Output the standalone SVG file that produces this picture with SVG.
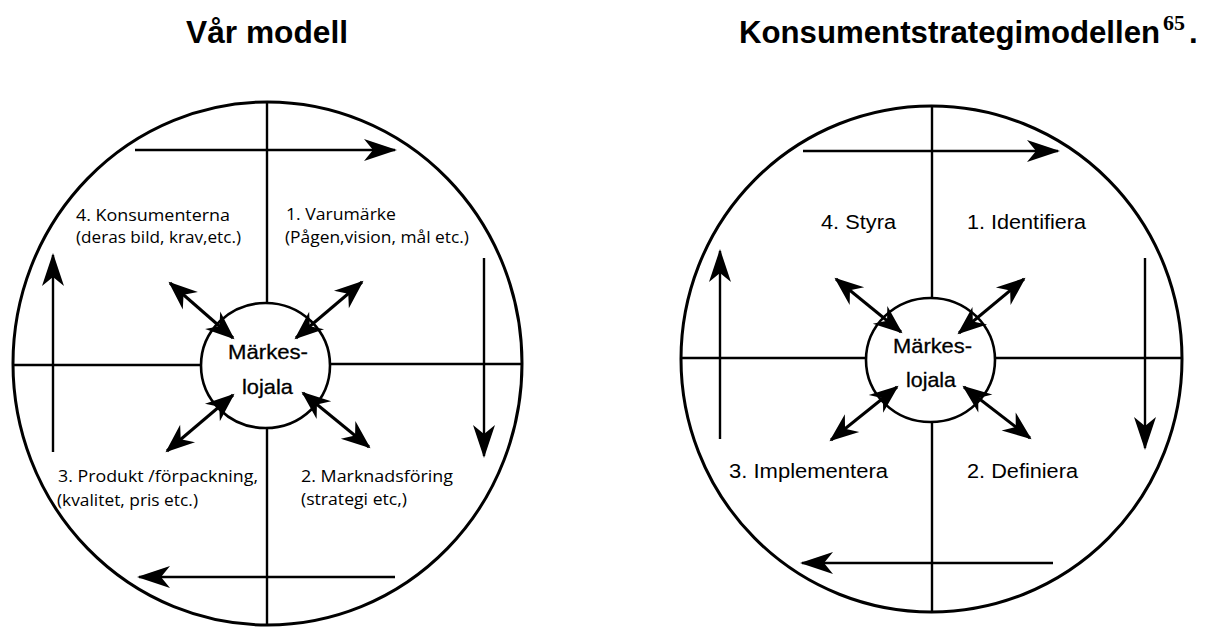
<svg xmlns="http://www.w3.org/2000/svg" width="1206" height="627" viewBox="0 0 1206 627">
<style>
.bg{fill:#fff}
.ring{fill:none;stroke:#000;stroke-width:3}
.hub{fill:#fff;stroke:#000;stroke-width:2.6}
.ln{stroke:#000;stroke-width:2.4;fill:none}
.ar{stroke:#000;stroke-width:2.4;fill:none;marker-end:url(#ah)}
.da{stroke:#000;stroke-width:3;fill:none;marker-start:url(#dh);marker-end:url(#dh)}
.title{font-family:"Liberation Sans",Arial,sans-serif;font-weight:bold;font-size:32px;fill:#000}
.sup{font-family:"Liberation Serif","Times New Roman",serif;font-weight:bold;font-size:22px}
.ql{font-family:"Open Sans","Noto Sans",sans-serif;font-size:17px;fill:#000}
.qr{font-family:"Liberation Sans",Arial,sans-serif;font-size:20px;fill:#000}
.hb{font-family:"Liberation Sans",Arial,sans-serif;font-size:21px;fill:#000;text-anchor:middle;stroke:#000;stroke-width:0.3}
</style>
<defs>
<marker id="ah" viewBox="-36 -13 40 26" refX="0" refY="0" markerWidth="40" markerHeight="26" markerUnits="userSpaceOnUse" orient="auto-start-reverse">
<path d="M2,0 L-31,-11 L-22,0 L-31,11 Z" fill="#000"/>
</marker>
<marker id="dh" viewBox="-32 -13 36 26" refX="0" refY="0" markerWidth="36" markerHeight="26" markerUnits="userSpaceOnUse" orient="auto-start-reverse">
<path d="M2,0 L-27,-11.5 L-18,0 L-27,11.5 Z" fill="#000"/>
</marker>
</defs>
<rect class="bg" x="0" y="0" width="1206" height="627"/>

<g id="title-left"><text class="title" x="186" y="43" textLength="162" lengthAdjust="spacingAndGlyphs">Vår modell</text></g>
<g id="title-right"><text class="title" x="739" y="43" style="font-size:31.2px">Konsumentstrategimodellen<tspan class="sup" dx="3" dy="-13">65</tspan><tspan dx="4" dy="13">.</tspan></text></g>

<!-- LEFT MODEL -->
<g id="left-outer"><ellipse class="ring" cx="267.5" cy="363.5" rx="254.5" ry="261.5"/></g>
<g id="left-hub"><ellipse class="hub" cx="265.5" cy="365.5" rx="64.5" ry="62.5"/>
<text class="hb" x="268" y="359" textLength="80" lengthAdjust="spacingAndGlyphs">Märkes-</text>
<text class="hb" x="267.5" y="394" textLength="51" lengthAdjust="spacingAndGlyphs">lojala</text></g>
<g id="left-connectors">
<line class="ln" x1="267" y1="102" x2="267" y2="303"/>
<line class="ln" x1="267" y1="428" x2="267" y2="625"/>
<line class="ln" x1="13" y1="365" x2="201" y2="365"/>
<line class="ln" x1="330" y1="364" x2="522" y2="364"/>
<line class="ar" x1="135" y1="150" x2="395" y2="150"/>
<line class="ar" x1="484" y1="258" x2="484" y2="456"/>
<line class="ar" x1="395" y1="577" x2="139" y2="577"/>
<line class="ar" x1="53" y1="452" x2="53" y2="255"/>
<line class="da" x1="170" y1="283" x2="233" y2="338"/>
<line class="da" x1="362" y1="282" x2="296" y2="338"/>
<line class="da" x1="167" y1="451" x2="233" y2="395"/>
<line class="da" x1="303" y1="393" x2="369" y2="447"/>
</g>
<g id="left-q1"><text class="ql" x="286" y="220" textLength="110" lengthAdjust="spacingAndGlyphs">1.  Varumärke</text>
<text class="ql" x="285" y="243" textLength="184" lengthAdjust="spacingAndGlyphs">(Pågen,vision, mål etc.)</text></g>
<g id="left-q2"><text class="ql" x="301" y="482" textLength="152" lengthAdjust="spacingAndGlyphs">2.  Marknadsföring</text>
<text class="ql" x="301" y="505" textLength="106" lengthAdjust="spacingAndGlyphs">(strategi etc,)</text></g>
<g id="left-q3"><text class="ql" x="58" y="482" textLength="200" lengthAdjust="spacingAndGlyphs">3.  Produkt /förpackning,</text>
<text class="ql" x="57" y="506" textLength="141" lengthAdjust="spacingAndGlyphs">(kvalitet, pris etc.)</text></g>
<g id="left-q4"><text class="ql" x="76" y="221" textLength="154" lengthAdjust="spacingAndGlyphs">4.  Konsumenterna</text>
<text class="ql" x="76" y="243" textLength="165" lengthAdjust="spacingAndGlyphs">(deras bild, krav,etc.)</text></g>

<!-- RIGHT MODEL -->
<g id="right-outer"><ellipse class="ring" cx="931.5" cy="359" rx="250.5" ry="253"/></g>
<g id="right-hub"><ellipse class="hub" cx="930.5" cy="360" rx="64.5" ry="62"/>
<text class="hb" x="932.5" y="353" textLength="79" lengthAdjust="spacingAndGlyphs">Märkes-</text>
<text class="hb" x="931" y="387" textLength="50" lengthAdjust="spacingAndGlyphs">lojala</text></g>
<g id="right-connectors">
<line class="ln" x1="932" y1="106" x2="932" y2="298"/>
<line class="ln" x1="932" y1="422" x2="932" y2="612"/>
<line class="ln" x1="681" y1="358" x2="866" y2="358"/>
<line class="ln" x1="995" y1="358" x2="1182" y2="358"/>
<line class="ar" x1="803" y1="151" x2="1058" y2="151"/>
<line class="ar" x1="1145" y1="258" x2="1145" y2="448"/>
<line class="ar" x1="1053" y1="563" x2="802" y2="563"/>
<line class="ar" x1="720" y1="439" x2="720" y2="251"/>
<line class="da" x1="836" y1="279" x2="901" y2="332"/>
<line class="da" x1="1024" y1="279" x2="959" y2="333"/>
<line class="da" x1="831" y1="440" x2="897" y2="387"/>
<line class="da" x1="964" y1="387" x2="1030" y2="438"/>
</g>
<g id="right-q1"><text class="qr" x="967" y="229" textLength="119" lengthAdjust="spacingAndGlyphs">1. Identifiera</text></g>
<g id="right-q2"><text class="qr" x="967" y="478" textLength="111" lengthAdjust="spacingAndGlyphs">2. Definiera</text></g>
<g id="right-q3"><text class="qr" x="729" y="478" textLength="159" lengthAdjust="spacingAndGlyphs">3. Implementera</text></g>
<g id="right-q4"><text class="qr" x="821" y="229" textLength="75" lengthAdjust="spacingAndGlyphs">4. Styra</text></g>
</svg>
